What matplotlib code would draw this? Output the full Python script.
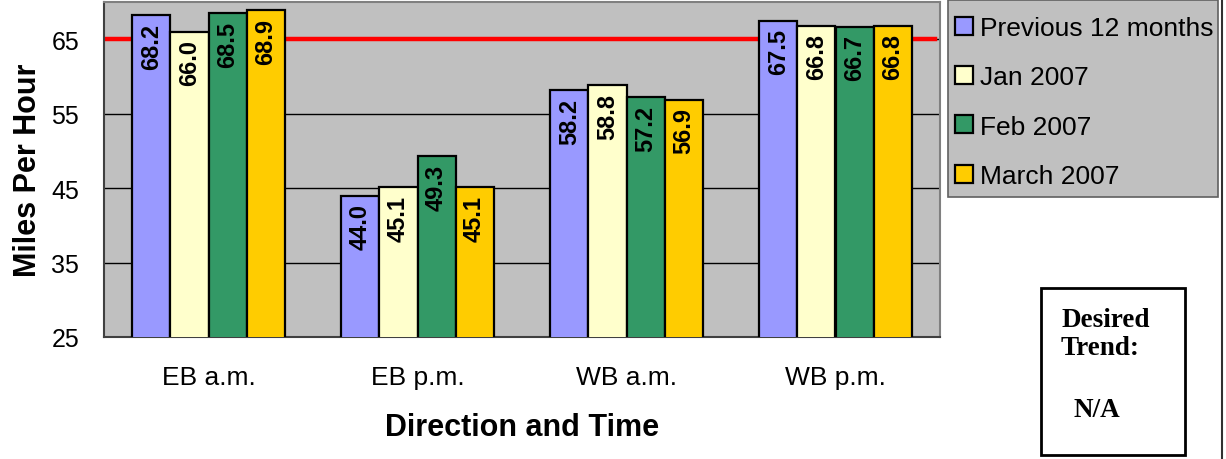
import matplotlib
matplotlib.use("Agg")
import matplotlib.pyplot as plt
import numpy as np

# chart data
categories = ["EB a.m.", "EB p.m.", "WB a.m.", "WB p.m."]
series_names = ["Previous 12 months", "Jan 2007", "Feb 2007", "March 2007"]
prev_12 = [68.2, 44.0, 58.2, 67.5]
jan_2007 = [66.0, 45.1, 58.8, 66.8]
feb_2007 = [68.5, 49.3, 57.2, 66.7]
mar_2007 = [68.9, 45.1, 56.9, 66.8]
speed_limit = 65
y_ticks = [25, 35, 45, 55, 65]

colors = ["#9999ff", "#ffffcc", "#339966", "#ffcc00"]

plt.rcParams['font.family'] = ['Liberation Sans', 'DejaVu Sans']

fig = plt.figure(figsize=(12.26, 4.6), dpi=100)
W, H = 1226, 460
ax = fig.add_axes([104 / W, (H - 338) / H, (940 - 104) / W, (338 - 3) / H])
ax.set_facecolor("#c0c0c0")

x = np.arange(len(categories))
bw = 0.182
all_series = [prev_12, jan_2007, feb_2007, mar_2007]

for yv in y_ticks[1:]:
    ax.axhline(yv, color="black", lw=1, zorder=1)
ax.axhline(speed_limit, xmin=0.004, xmax=0.994, color="#ff0000", lw=3.2, zorder=2)

for i, (vals, col, name) in enumerate(zip(all_series, colors, series_names)):
    pos = x + (i - 1.5) * bw
    ax.bar(pos, vals, width=bw, color=col, edgecolor="black", linewidth=1.6,
           label=name, zorder=3, bottom=0)
    for px, v in zip(pos, vals):
        ax.annotate(f"{v:.1f}", (px, v), xytext=(0, -5.5), textcoords="offset points",
                    rotation=90, ha="center", va="top", fontsize=17,
                    fontweight="bold", zorder=4)

ax.set_xlim(-0.5, 3.5)
ax.set_ylim(25, 70)
ax.set_yticks(y_ticks)
ax.set_xticks(x)
ax.set_xticklabels(categories)
ax.tick_params(axis="y", labelsize=18, length=0, pad=18)
ax.tick_params(axis="x", labelsize=19, length=0, pad=20)
ax.set_xlabel("Direction and Time", fontsize=22, fontweight="bold", labelpad=17)
ax.set_ylabel("Miles Per Hour", fontsize=22, fontweight="bold", labelpad=6)

for s in ["left", "bottom"]:
    ax.spines[s].set_color("#404040")
    ax.spines[s].set_linewidth(1.5)
for s in ["top", "right"]:
    ax.spines[s].set_color("#808080")
    ax.spines[s].set_linewidth(1.5)

# legend: frame drawn by hand so its box matches the original
fig.add_artist(plt.Rectangle((948 / W, (H - 198) / H), (1218 - 948) / W, 197 / H,
                             transform=fig.transFigure, facecolor="#c0c0c0",
                             edgecolor="#606060", lw=1.2, zorder=0))
leg = fig.legend(loc="upper left", bbox_to_anchor=(955 / W, (H - 17) / H), fontsize=19,
                 frameon=False, handlelength=0.68, handleheight=0.68, handletextpad=0.28,
                 labelspacing=0.96, borderpad=0, borderaxespad=0)

# desired trend box
serif = ["Liberation Serif", "DejaVu Serif"]
box = plt.Rectangle((1041 / W, (H - 456) / H), (1185 - 1041) / W, (456 - 289) / H,
                    transform=fig.transFigure, fill=False, edgecolor="black", lw=2)
fig.add_artist(box)
fig.text(1061 / W, (H - 327) / H, "Desired", fontsize=19.5, fontweight="bold",
         family=serif, va="baseline", ha="left")
fig.text(1061 / W, (H - 355) / H, "Trend:", fontsize=19.5, fontweight="bold",
         family=serif, va="baseline", ha="left")
fig.text(1073 / W, (H - 417) / H, "N/A", fontsize=19.5, fontweight="bold",
         family=serif, va="baseline", ha="left")

# page edge line
fig.add_artist(plt.Line2D([1222 / W, 1222 / W], [0, 1], transform=fig.transFigure,
                          color="#303030", lw=1.5))

fig.savefig("out.png", dpi=100)
